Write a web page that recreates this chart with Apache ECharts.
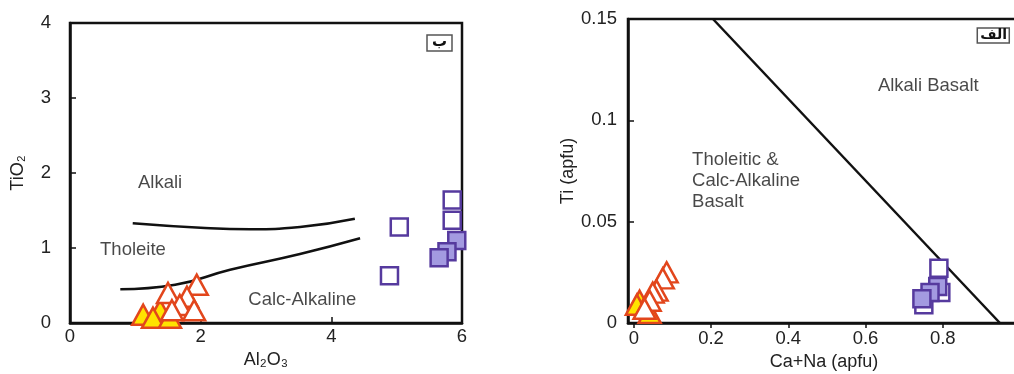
<!DOCTYPE html>
<html><head><meta charset="utf-8">
<script src="https://cdn.jsdelivr.net/npm/echarts@6/dist/echarts.min.js"></script>
<style>html,body{margin:0;padding:0;background:#fff}#c{width:1014px;height:374px}</style>
</head><body><div id="c"></div>
<script>
// ---- Left panel (ب): TiO2 vs Al2O3 ----
const leftXTicks = [0, 2, 4, 6];
const leftYTicks = [0, 1, 2, 3, 4];
const leftTriOpen = [[1.94,0.51],[1.50,0.40],[1.79,0.35],[1.68,0.24],[1.90,0.17],[1.56,0.17]];
const leftTriFilled = [[1.12,0.11],[1.38,0.17],[1.27,0.07],[1.53,0.07]];
const leftSqOpen = [[5.04,1.28],[4.89,0.63],[5.85,1.64],[5.85,1.37]];
const leftSqFilled = [[5.92,1.10],[5.77,0.95],[5.65,0.87]];
const leftCurveUpper = [[0.96,1.33],[2.0,1.27],[2.76,1.25],[3.52,1.28],[4.36,1.39]];
const leftCurveLower = [[0.77,0.45],[1.61,0.51],[2.45,0.71],[3.52,0.92],[4.44,1.13]];
const leftLabels = [{t:'Alkali',x:1.04,y:1.87},{t:'Tholeite',x:0.46,y:0.97},{t:'Calc-Alkaline',x:2.73,y:0.31}];

// ---- Right panel (الف): Ti vs Ca+Na ----
const rightXTicks = [0, 0.2, 0.4, 0.6, 0.8];
const rightYTicks = [0, 0.05, 0.1, 0.15];
const rightTriOpen = [[0.085,0.025],[0.075,0.022],[0.059,0.016],[0.049,0.015],[0.041,0.011],[0.028,0.007]];
const rightTriFilled = [[0.015,0.011],[0.008,0.009],[0.041,0.005]];
const rightSqOpen = [[0.79,0.027],[0.795,0.015],[0.751,0.009]];
const rightSqFilled = [[0.787,0.018],[0.767,0.015],[0.746,0.012]];
const rightBoundary = [[0.205,0.15],[0.948,0]];
const rightLabels = [{t:'Alkali Basalt',x:0.632,y:0.117},{t:'Tholeitic &\nCalc-Alkaline\nBasalt',x:0.151,y:0.07}];

const FONT = 'Liberation Sans, Arial, sans-serif';
const triColor = '#e2461c', triFill = '#ffe300';
const sqColor = '#563a9e', sqFill = '#a39ae0';

function axisCommon(extra){
  return Object.assign({
    axisLine:{show:true,onZero:false,lineStyle:{color:'#111',width:2.5}},
    splitLine:{show:false},
    nameTextStyle:{color:'#222',fontSize:18,fontFamily:FONT}
  }, extra);
}
function tri(data, fill, xi){
  return {type:'scatter',xAxisIndex:xi,yAxisIndex:xi,data:data,symbol:'triangle',symbolSize:[22,20],
    itemStyle:{color:fill,borderColor:triColor,borderWidth:2.5,opacity:1},z:3};
}
function sq(data, fill, xi){
  return {type:'scatter',xAxisIndex:xi,yAxisIndex:xi,data:data,symbol:'rect',symbolSize:17,
    itemStyle:{color:fill,borderColor:sqColor,borderWidth:2.5,opacity:1},z:3};
}
function curve(data, xi, smooth){
  return {type:'line',xAxisIndex:xi,yAxisIndex:xi,data:data,smooth:smooth,symbol:'none',
    lineStyle:{color:'#111',width:2.5},z:2};
}
function textSeries(items, xi){
  return {type:'scatter',xAxisIndex:xi,yAxisIndex:xi,symbolSize:0,silent:true,
    data:items.map(o=>({value:[o.x,o.y],label:{show:true,formatter:o.t,position:'right',distance:0,
      align:'left',color:'#1a1a1a',fontSize:18.5,fontFamily:FONT,lineHeight:21}}))};
}

const chart = echarts.init(document.getElementById('c'));
chart.setOption({
  animation:false,
  backgroundColor:'#fff',
  title:[
    {text:'ب',left:427,top:35,padding:[0,5,1,5],borderColor:'#555',borderWidth:1.5,
      textStyle:{fontFamily:'DejaVu Sans',fontWeight:'bold',fontSize:15,color:'#111'}},
    {text:'الف',right:4,top:28,padding:[0,3,1,3],borderColor:'#555',borderWidth:1.5,
      textStyle:{fontFamily:'DejaVu Sans',fontWeight:'bold',fontSize:14,color:'#111'}}
  ],
  grid:[
    {left:70,top:23,width:392,height:300,show:true,borderColor:'#111',borderWidth:2.5,backgroundColor:'transparent',outerBoundsMode:'none',containLabel:false},
    {left:628,top:19,width:392,height:304,show:true,borderColor:'#111',borderWidth:2.5,backgroundColor:'transparent',outerBoundsMode:'none',containLabel:false}
  ],
  xAxis:[
    axisCommon({gridIndex:0,type:'value',min:leftXTicks[0],max:leftXTicks[leftXTicks.length-1],interval:2,
      name:'Al₂O₃',nameLocation:'middle',nameGap:14,
      axisTick:{show:true,inside:true,length:6,lineStyle:{color:'#111',width:1.5}},
      axisLabel:{color:'#222',fontSize:18.5,fontFamily:FONT,margin:4,showMinLabel:true,showMaxLabel:true}}),
    axisCommon({gridIndex:1,type:'value',min:-0.015,max:1.0,
      name:'Ca+Na (apfu)',nameLocation:'middle',nameGap:30,
      axisTick:{show:true,inside:false,length:5,lineStyle:{color:'#111',width:1.5},customValues:rightXTicks},
      axisLabel:{color:'#222',fontSize:18.5,fontFamily:FONT,margin:6,customValues:rightXTicks}})
  ],
  yAxis:[
    axisCommon({gridIndex:0,type:'value',min:leftYTicks[0],max:leftYTicks[leftYTicks.length-1],interval:1,
      name:'TiO₂',nameLocation:'middle',nameGap:43,
      axisTick:{show:true,inside:true,length:6,lineStyle:{color:'#111',width:1.5}},
      axisLabel:{color:'#222',fontSize:18.5,fontFamily:FONT,margin:19}}),
    axisCommon({gridIndex:1,type:'value',min:rightYTicks[0],max:rightYTicks[rightYTicks.length-1],interval:0.05,
      name:'Ti (apfu)',nameLocation:'middle',nameGap:42,
      axisTick:{show:true,inside:true,length:6,lineStyle:{color:'#111',width:1.5}},
      axisLabel:{color:'#222',fontSize:18.5,fontFamily:FONT,margin:11}})
  ],
  series:[
    curve(leftCurveUpper,0,0.5),
    curve(leftCurveLower,0,0.5),
    textSeries(leftLabels,0),
    tri(leftTriFilled,triFill,0),
    tri(leftTriOpen,'#fff',0),
    sq(leftSqOpen,'#fff',0),
    sq(leftSqFilled,sqFill,0),
    curve(rightBoundary,1,false),
    textSeries(rightLabels,1),
    tri(rightTriFilled,triFill,1),
    tri(rightTriOpen,'#fff',1),
    sq(rightSqOpen,'#fff',1),
    sq(rightSqFilled,sqFill,1)
  ]
});
</script></body></html>
